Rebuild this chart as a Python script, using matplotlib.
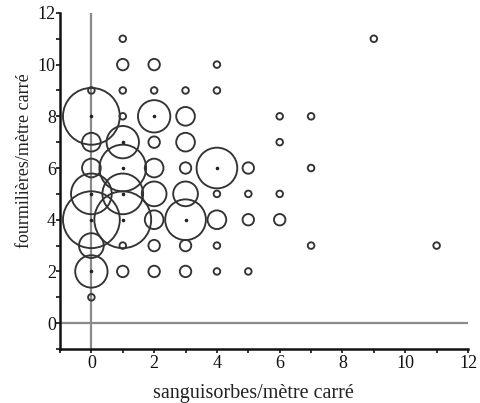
import matplotlib
matplotlib.use('Agg')
import matplotlib.pyplot as plt
import numpy as np

plt.rcParams['font.family'] = ['Liberation Serif', 'DejaVu Serif']

# sanguisorbes (x), fourmilières (y), nombre de relevés (taille du cercle)
x_vals = [1, 1, 2, 4, 0, 1, 2, 3, 4, 9,
          0, 1, 2, 3, 6, 7,
          0, 1, 2, 3, 6,
          0, 1, 2, 3, 4, 5, 7,
          0, 1, 2, 3, 4, 5, 6,
          0, 1, 2, 3, 4, 5, 6,
          0, 1, 2, 3, 4, 7, 11,
          0, 1, 2, 3, 4, 5,
          0]
y_vals = [11, 10, 10, 10, 9, 9, 9, 9, 9, 11,
          8, 8, 8, 8, 8, 8,
          7, 7, 7, 7, 7,
          6, 6, 6, 6, 6, 6, 6,
          5, 5, 5, 5, 5, 5, 5,
          4, 4, 4, 4, 4, 4, 4,
          3, 3, 3, 3, 3, 3, 3,
          2, 2, 2, 2, 2, 2,
          1]
counts = [1, 3, 3, 1, 1, 1, 1, 1, 1, 1,
          74, 1, 24, 8, 1, 1,
          8, 24, 3, 8, 1,
          8, 50, 8, 3, 38, 3, 1,
          38, 38, 14, 14, 1, 1, 1,
          74, 74, 8, 38, 8, 3, 3,
          14, 1, 3, 3, 1, 1, 1,
          24, 3, 3, 3, 1, 1,
          1]

x = np.array(x_vals)
y = np.array(y_vals)
n = np.array(counts)

fig = plt.figure(figsize=(4.8, 4.03), dpi=100)
ax = fig.add_axes([0.125, 0.134, 0.85, 0.834])

ax.axvline(0, color='#8a8a8a', lw=1.6, zorder=1)
ax.axhline(0, color='#8a8a8a', lw=1.6, zorder=1)

ax.scatter(x, y, s=22.6 * n, facecolors='none', edgecolors='#333333',
           linewidths=1.35, zorder=3, clip_on=False)
big = n >= 24
ax.scatter(x[big], y[big], s=2.5, color='#222222', zorder=4)

ax.set_xlim(-1, 12)
ax.set_ylim(-1, 12)
ax.set_xticks(range(0, 13, 2))
ax.set_yticks(range(0, 13, 2))
ax.set_xticks(range(-1, 13), minor=True)
ax.set_yticks(range(-1, 13), minor=True)

for side in ['top', 'right']:
    ax.spines[side].set_visible(False)
for side in ['left', 'bottom']:
    ax.spines[side].set_linewidth(1.8)
    ax.spines[side].set_color('#111111')

ax.tick_params(which='both', direction='out', length=3, width=1.2,
               labelsize=13, colors='#111111', pad=1)
ax.tick_params(axis='y', pad=0)

ax.set_xlabel('sanguisorbes/mètre carré', fontsize=14.5, color='#222222')
ax.set_ylabel('fourmilières/mètre carré', fontsize=13, color='#222222')
ax.xaxis.set_label_coords(0.475, -0.104)
ax.yaxis.set_label_coords(-0.067, 0.56)

fig.savefig('out.png', dpi=100)
